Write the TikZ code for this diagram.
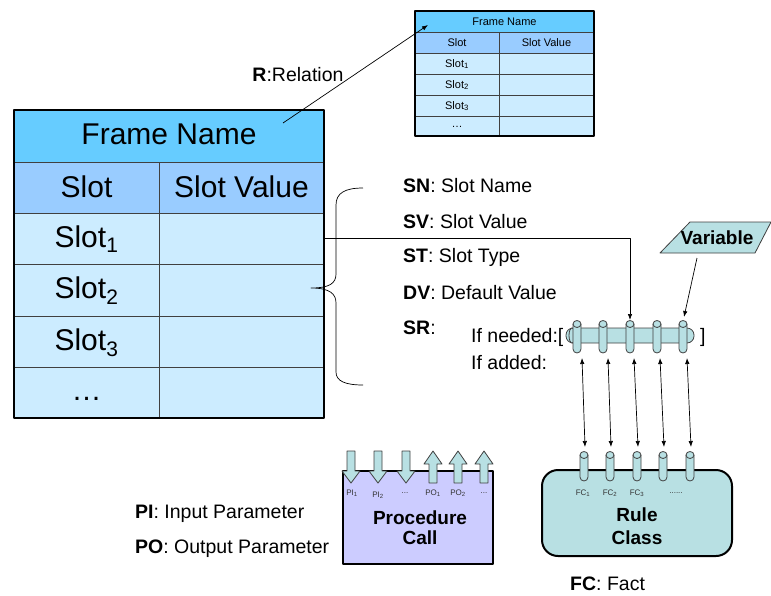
\documentclass[tikz,border=0pt]{standalone}
\usepackage{fontspec}
\setmainfont{Liberation Sans}
\usetikzlibrary{arrows.meta}

\definecolor{hdrblue}{HTML}{66CCFF}
\definecolor{subblue}{HTML}{99CCFF}
\definecolor{cellblue}{HTML}{CCECFF}
\definecolor{tealfill}{HTML}{B8E0E3}
\definecolor{lavfill}{HTML}{CCCCFF}

\newcommand\setfs[1]{\fontsize{#1}{#1}\selectfont}

\tikzset{
  txt/.style={inner sep=0pt, anchor=center},
  bigcell/.style={inner sep=0pt, anchor=base, font=\setfs{30}},
  lbl/.style={inner sep=0pt, anchor=west, font=\setfs{19.5}},
  gridline/.style={draw=black!75, line width=0.8pt},
  outer/.style={draw=black, line width=2pt},
  conn/.style={draw=black, line width=0.7pt},
  tip/.style={-{Latex[length=6pt,width=4.5pt]}},
  dtip/.style={{Latex[length=6pt,width=4.5pt]}-{Latex[length=6pt,width=4.5pt]}},
  pin/.style={fill=tealfill, draw=black!75, line width=0.8pt},
  bigtitle/.style={txt, font=\bfseries\setfs{19}},
  tiny/.style={txt, font=\setfs{8}, text=black!80},
}

\begin{document}
\begin{tikzpicture}[x=1pt, y=-1pt, line join=round]
\useasboundingbox (0,0) rectangle (771,595);

% ---------- main frame table ----------
\fill[hdrblue]  (14,110) rectangle (324,162);
\fill[subblue]  (14,162) rectangle (324,213);
\fill[cellblue] (14,213) rectangle (324,418);
\draw[gridline] (14,162) -- (324,162) (14,213) -- (324,213) (14,264) -- (324,264)
                (14,316) -- (324,316) (14,367) -- (324,367) (159,162) -- (159,418);
\draw[outer] (14,110) rectangle (324,418);

\node[bigcell] (bfname) at (169,144) {Frame Name};
\node[bigcell] (bslot)  at (86.5,197) {Slot};
\node[bigcell] (bvalue) at (241.5,197) {Slot Value};
\node[bigcell] (bslot1) at (86.5,247) {Slot\textsubscript{1}};
\node[bigcell] (bslot2) at (86.5,298.5) {Slot\textsubscript{2}};
\node[bigcell] (bslot3) at (86.5,350) {Slot\textsubscript{3}};
\node[bigcell] (bdots)  at (86.5,400) {…};

% ---------- small related frame ----------
\fill[hdrblue]  (415,11) rectangle (594,32);
\fill[subblue]  (415,32) rectangle (594,53);
\fill[cellblue] (415,53) rectangle (594,136);
\draw[gridline] (415,32) -- (594,32) (415,53) -- (594,53) (415,74) -- (594,74)
                (415,95) -- (594,95) (415,116) -- (594,116) (499,32) -- (499,136);
\draw[outer] (415,11) rectangle (594,136);

\node[txt, font=\setfs{11}] (sfname) at (504.5,21.5) {Frame Name};
\node[txt, font=\setfs{11}] (sslot)  at (457,42.5) {Slot};
\node[txt, font=\setfs{11}] (svalue) at (546.5,42.5) {Slot Value};
\node[txt, font=\setfs{11}] (sslot1) at (457,64) {Slot\textsubscript{1}};
\node[txt, font=\setfs{11}] (sslot2) at (457,85) {Slot\textsubscript{2}};
\node[txt, font=\setfs{11}] (sslot3) at (457,106) {Slot\textsubscript{3}};
\node[txt, font=\setfs{11}] (sdots)  at (457,127) {…};

% ---------- relation arrow ----------
\node[txt, font=\setfs{19.5}] (rel) at (298,75) {\textbf{R}:Relation};
\coordinate (relA) at (283,123);
\coordinate (relB) at (428,25);
\draw[conn, tip] (relA) -- (relB);

% ---------- brace and slot facets ----------
\draw[conn] (363,188) .. controls (345,188) and (336,193) .. (336,205)
  -- (336,274) .. controls (336,283) and (330,288) .. (311,288)
  .. controls (330,288) and (336,294) .. (336,303)
  -- (336,372) .. controls (336,381) and (345,385) .. (363,385);

\node[lbl] (sn) at (403,186)   {\textbf{SN}: Slot Name};
\node[lbl] (sv) at (403,221.5) {\textbf{SV}: Slot Value};
\node[lbl] (st) at (403,257)   {\textbf{ST}: Slot Type};
\node[lbl] (dv) at (403,292.5) {\textbf{DV}: Default Value};
\node[lbl] (sr) at (403,327.5) {\textbf{SR}:};
\node[lbl] (ifn) at (471,337) {If needed:[};
\node[lbl] (ifa) at (471,363) {If added:};
\node[lbl] (rbr) at (700,337) {]};

% demon bar with pins
\draw[pin, rounded corners=7] (566,328) rectangle (694,343);
\draw[pin] (572,335.5) ellipse [x radius=3, y radius=7.5];
\foreach \i/\x in {1/577,2/603,3/630,4/657,5/683}{
  \filldraw[pin, rounded corners=4] (\x-4,324) -- (\x-4,353) -- (\x+4,353) -- (\x+4,324);
  \draw[pin] (\x,324) ellipse [x radius=4, y radius=3.5];
  \coordinate (up\i) at (\x,320);
}

% slot 1 to the demon bar
\coordinate (s1out) at (324,238);
\draw[conn, tip] (s1out) -| (up3);

% variable
\draw[pin] (690,222) -- (771,222) -- (755,253) -- (660,253) -- cycle;
\node[txt, font=\bfseries\setfs{19}] (var) at (717,238) {Variable};
\coordinate (varA) at (697,258);
\coordinate (varB) at (684,317);
\draw[conn, tip] (varA) -- (varB);

% ---------- rule class ----------
\node[draw=black, line width=2pt, fill=tealfill, rounded corners=16,
      minimum width=190, minimum height=86, inner sep=0pt] (rule) at (637,513) {};
\foreach \i/\x in {1/584,2/610,3/637,4/663,5/690}{
  \filldraw[pin, rounded corners=4] (\x-4,455) -- (\x-4,481) -- (\x+4,481) -- (\x+4,455);
  \draw[pin] (\x,455) ellipse [x radius=4, y radius=3.5];
  \coordinate (lo\i) at (\x+1,447);
}
\foreach \i/\x in {1/582,2/608,3/634,4/660,5/687}{
  \coordinate (ua\i) at (\x,358);
  \draw[conn, dtip] (ua\i) -- (lo\i);
}
\node[tiny] (fc1) at (583,493) {FC\textsubscript{1}};
\node[tiny] (fc2) at (610,493) {FC\textsubscript{2}};
\node[tiny] (fc3) at (637,493) {FC\textsubscript{3}};
\node[tiny] (fcd) at (676,493) {......};
\node[bigtitle] (rule1) at (637,515) {Rule};
\node[bigtitle] (rule2) at (637,538) {Class};
\node[lbl] (fcfact) at (570,584) {\textbf{FC}: Fact};

% ---------- procedure call ----------
\node[draw=black, line width=2pt, fill=lavfill, minimum width=150, minimum height=93,
      inner sep=0pt] (proc) at (418,517.5) {};
\foreach \x in {351,378,406}{
  \draw[pin] (\x-4,451) -- (\x+4,451) -- (\x+4,471) -- (\x+9,471) -- (\x,483)
             -- (\x-9,471) -- (\x-4,471) -- cycle;
}
\foreach \x in {433,458,484}{
  \draw[pin] (\x-4,483) -- (\x+4,483) -- (\x+4,464) -- (\x+9,464) -- (\x,451)
             -- (\x-9,464) -- (\x-4,464) -- cycle;
}
\node[tiny] (pi1) at (352,493) {PI\textsubscript{1}};
\node[tiny] (pi2) at (378,495) {PI\textsubscript{2}};
\node[tiny] (pid) at (405,493) {...};
\node[tiny] (po1) at (433,493) {PO\textsubscript{1}};
\node[tiny] (po2) at (458,493) {PO\textsubscript{2}};
\node[tiny] (pod) at (484,493) {...};
\node[bigtitle] (proc1) at (420,518) {Procedure};
\node[bigtitle] (proc2) at (420,538) {Call};

\node[lbl] (pilbl) at (135,514) {\textbf{PI}: Input Parameter};
\node[lbl] (polbl) at (135,549) {\textbf{PO}: Output Parameter};
\end{tikzpicture}
\end{document}
